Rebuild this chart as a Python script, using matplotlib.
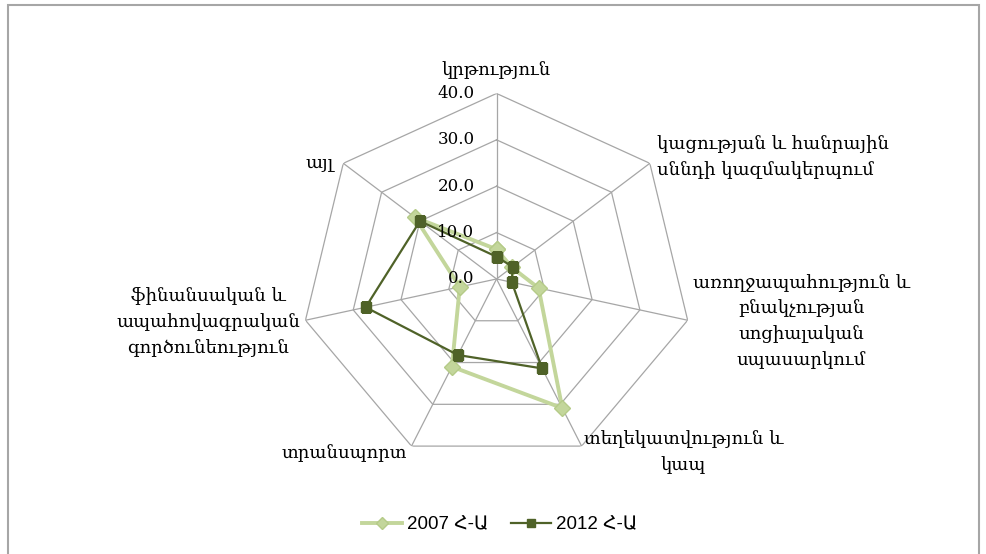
import numpy as np
import matplotlib
matplotlib.use("Agg")
import matplotlib.pyplot as plt
from matplotlib.patches import Rectangle

plt.rcParams['font.family'] = ['DejaVu Serif', 'DejaVu Sans']

categories = [
    'կրթություն',
    'կացության և հանրային\nսննդի կազմակերպում',
    'առողջապահություն և\nբնակչության\nսոցիալական\nսպասարկում',
    'տեղեկատվություն և\nկապ',
    'տրանսպորտ',
    'ֆինանսական և\nապահովագրական\nգործունեություն',
    'այլ',
]
v2007 = [6.4, 4.0, 8.8, 30.9, 21.0, 7.7, 21.3]
v2012 = [4.8, 4.2, 3.2, 21.4, 18.2, 27.4, 20.0]
levels = [0, 10, 20, 30, 40]
series_names = ['2007 Հ-Ա', '2012 Հ-Ա']

n = len(categories)
angles = np.linspace(0, 2 * np.pi, n, endpoint=False)
closed = np.append(angles, angles[0])

fig = plt.figure(figsize=(9.87, 5.54), dpi=100)
ax = fig.add_axes([0.3045, 0.1616, 0.3972, 0.6697], projection='polar')
ax.set_aspect('auto')
ax.set_theta_zero_location('N')
ax.set_theta_direction(-1)
ax.set_ylim(0, 40)
ax.set_axis_off()

grid_c = '#A6A6A6'
for lv in levels[1:]:
    ax.plot(closed, [lv] * (n + 1), color=grid_c, lw=0.9, zorder=1)
for a in angles:
    ax.plot([a, a], [0, 40], color=grid_c, lw=0.9, zorder=1)

for lv in levels:
    ax.annotate(f'{lv:.1f}', xy=(0, lv), xytext=(-22, 0), textcoords='offset pixels',
                ha='right', va='center', fontsize=12, color='#000000', zorder=5)

c07 = '#C3D69B'
c12 = '#4F6228'
ax.plot(closed, np.append(v2007, v2007[0]), color=c07, lw=2.8, marker='D',
        ms=8, mfc=c07, mec='#B5CB88', label=series_names[0], zorder=3)
ax.plot(closed, np.append(v2012, v2012[0]), color=c12, lw=1.6, marker='s',
        ms=7, mfc=c12, mec=c12, label=series_names[1], zorder=4)

# category labels, offsets (pixels) from the outer vertices
offsets = [(0, 23), (7, 6), (5, -1), (2, -6), (-4, -7), (-5, -2), (-10, 1)]
aligns = [('center', 'center'), ('left', 'left'), ('left', 'center'), ('left', 'center'),
          ('right', 'right'), ('right', 'center'), ('right', 'right')]
for i, lab in enumerate(categories):
    ha, ma = aligns[i]
    ax.annotate(lab, xy=(angles[i], 40), xytext=offsets[i], textcoords='offset pixels',
                ha=ha, va='center', multialignment=ma, fontsize=13,
                linespacing=1.55, annotation_clip=False)

leg = fig.legend(loc='center', bbox_to_anchor=(500 / 987, 1 - 525 / 554), ncol=2, frameon=False,
                 prop={'family': ['Liberation Sans', 'DejaVu Sans'], 'size': 13.5},
                 handlelength=2.1, columnspacing=1.2, handletextpad=0.3, markerscale=0.8)

fig.patches.append(Rectangle((8 / 987, -0.02), 971 / 987, 1 - 5 / 554 + 0.02,
                             transform=fig.transFigure, fill=False,
                             edgecolor='#A6A6A6', lw=1.5))

fig.savefig('out.png', dpi=100)
